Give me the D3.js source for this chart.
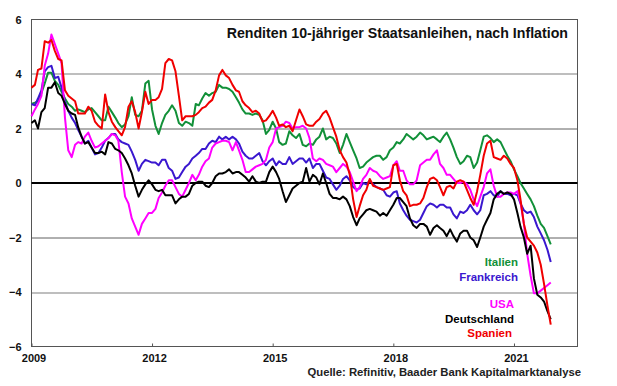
<!DOCTYPE html>
<html>
<head>
<meta charset="utf-8">
<script src="https://cdn.jsdelivr.net/npm/d3@7"></script>
<style>
  body { margin: 0; background: #fff; }
  svg { display: block; font-family: "Liberation Sans", Arial, sans-serif; font-weight: bold; }
</style>
</head>
<body>
<svg width="617" height="386"></svg>
<script>
// Realrenditen, Monatswerte ab Jan 2009
const startMonth = new Date(2009, 0, 1);

const italien = [
  2.9, 2.95, 3.0, 3.3, 3.65, 4.05, 4.05, 3.75, 3.6, 3.35,
  3.1, 2.9, 2.8, 2.65, 2.7, 2.65, 2.6, 2.7, 2.75, 2.6,
  2.45, 2.3, 2.3, 2.8, 2.6, 2.4, 2.2, 2.05, 2.15, 2.45,
  3.15, 2.5, 2.45, 2.65, 3.65, 3.75, 2.7, 2.1, 1.8, 2.2,
  2.5, 2.65, 2.85, 2.65, 2.2, 2.1, 2.25, 2.2, 2.1, 2.9,
  2.85, 3.1, 3.3, 3.2, 3.3, 3.35, 3.6, 3.5, 3.5, 3.45,
  3.35, 3.15, 2.95, 2.7, 2.55, 2.55, 2.5, 2.55, 2.5, 2.3,
  1.8, 1.95, 2.25, 2.0, 1.5, 1.4, 1.45, 1.9, 1.75, 1.65,
  1.8, 1.4, 1.35, 1.45, 1.4, 1.6, 1.7, 2.0, 1.6, 1.7,
  1.65, 1.45, 1.1, 1.4, 1.8, 1.5, 1.2, 0.9, 0.55, 0.6,
  0.75, 0.85, 0.95, 1.0, 1.0, 0.85, 0.95, 1.2, 1.3, 1.5,
  1.45, 1.6, 1.8, 1.7, 1.6, 1.7, 1.85, 1.75, 1.6, 1.65,
  1.7, 1.6, 1.5, 1.7, 1.85, 1.6, 1.3, 0.95, 0.7, 0.8,
  1.0, 0.95, 0.55, 0.75, 1.2, 1.7, 1.75, 1.65, 1.5, 1.6,
  1.5, 1.25, 1.0, 0.8, 0.5, 0.25, 0.0, -0.2, -0.4, -0.6,
  -0.85, -1.2, -1.5, -1.65, -1.95, -2.25
];

const frankreich = [
  2.9, 2.85, 3.1, 3.4, 4.1, 4.25, 4.3, 3.85, 3.9, 3.5,
  3.0, 2.65, 2.4, 2.2, 1.95, 1.7, 1.45, 1.55, 1.3, 1.05,
  1.1, 1.3, 1.55, 1.65, 1.8, 1.8, 1.6, 1.5, 1.45, 1.4,
  1.15, 0.85, 0.45, 0.7, 0.85, 0.8, 0.75, 0.75, 0.65, 0.85,
  0.85, 0.55, 0.45, 0.15, 0.2, 0.4, 0.6, 0.7, 0.9, 1.0,
  1.1, 1.25, 1.25, 1.45, 1.55, 1.5, 1.7, 1.6, 1.7, 1.6,
  1.7, 1.6, 1.45, 1.15, 1.0, 0.9, 0.9, 1.0, 1.1, 0.8,
  0.65, 0.8, 0.9, 0.65, 0.8, 0.7, 0.7, 0.95, 0.7, 0.8,
  0.9, 0.9, 0.75, 0.9, 0.55, 0.7, 0.7, 0.45, 0.2, 0.15,
  -0.05, -0.25, -0.1, 0.15, 0.25, 0.1, -0.15, -0.25, -0.2, 0.0,
  -0.05, 0.1, -0.05, -0.15, -0.2, -0.25, -0.45, -0.5, -0.35, -0.3,
  -0.75, -1.0, -1.2, -1.35, -1.4, -1.45, -1.35, -1.1, -0.85, -0.75,
  -0.8, -0.9, -0.8, -0.8, -0.9, -0.9, -1.15, -1.3, -1.05, -1.1,
  -1.0, -0.8, -1.0, -1.15, -1.0, -0.45, -0.4, -0.3, -0.45, -0.5,
  -0.3, -0.4, -0.4, -0.45, -0.4, -0.45, -0.75, -1.0, -1.1, -1.05,
  -1.25, -1.6, -1.85, -2.1, -2.45, -2.9
];

const usa = [
  2.45, 2.7, 2.9, 3.2, 4.3, 4.75, 5.45, 5.1, 4.75, 4.4,
  2.4, 1.2, 0.95, 1.4, 1.5, 1.45, 1.7, 1.85, 1.55, 1.3,
  1.35, 1.45, 1.55, 1.65, 1.8, 1.75, 1.55, 0.4, -0.5, -0.75,
  -1.3, -1.6, -1.9, -1.5, -1.3, -1.1, -1.1, -0.95, -0.55, -0.35,
  -0.1, 0.1, 0.1, -0.15, -0.4, -0.5, -0.25, 0.0, 0.3, 0.1,
  0.3, 0.6, 0.8, 0.9, 1.3, 1.45, 1.5, 1.55, 1.55, 1.5,
  1.2, 1.5, 1.2, 0.85, 0.4, 0.4, 0.5, 0.6, 0.65, 0.7,
  0.85, 1.3, 1.5, 2.0, 2.05, 2.1, 2.25, 2.2, 2.0, 2.05,
  2.05, 2.1, 2.0, 1.65, 0.9, 0.8, 0.9, 0.85, 0.7, 0.65,
  0.6, 0.4, 0.55, 0.7, 0.6, 0.4, 0.05, -0.3, -0.15, 0.15,
  0.3, 0.55, 0.45, 0.4, 0.25, 0.15, 0.2, 0.25, 0.65, 0.8,
  0.45, 0.45, 0.1, -0.05, -0.05, 0.1, 0.65, 0.75, 0.85, 0.85,
  1.05, 1.2, 0.7, 0.55, 0.3, 0.3, 0.15, 0.0, 0.0, 0.05,
  -0.05, -0.25, -0.6, -0.85, -0.5, -0.15, 0.35, 0.5, -0.1, -0.5,
  -0.5, -0.4, -0.35, -0.35, -0.4, -0.3, -0.7, -1.5, -2.6, -3.4,
  -4.05, -4.05, -3.95, -3.85, -3.75, -3.65
];

const deutschland = [
  2.2, 2.3, 2.0, 2.6, 2.75, 3.5, 3.5, 3.7, 3.3, 3.2,
  2.9, 2.65, 2.55, 2.5, 2.05, 1.7, 1.45, 1.5, 1.3, 1.1,
  1.1, 1.15, 1.05, 1.5, 1.45, 1.25, 1.2, 1.1, 0.9, 0.65,
  0.35, -0.1, -0.5, -0.25, -0.05, 0.1, -0.05, -0.25, -0.3, -0.25,
  -0.45, -0.45, -0.45, -0.75, -0.6, -0.5, -0.5, -0.4, -0.1, 0.0,
  0.05, 0.05, -0.1, -0.15, 0.0, 0.25, 0.35, 0.35, 0.4, 0.5,
  0.35, 0.4, 0.4, 0.3, 0.2, 0.05, 0.25, 0.05, 0.0, 0.05,
  0.05, 0.4, 0.6, 0.4, 0.15, -0.3, -0.7, -0.45, -0.2, -0.1,
  0.0, 0.05, 0.55, 0.05, 0.3, 0.2, -0.05, 0.35, 0.0, -0.4,
  -0.55, -0.55, -0.6, -0.5, -0.6, -0.85, -1.25, -1.55, -1.3, -1.15,
  -1.0, -0.95, -1.0, -1.05, -1.2, -1.1, -1.2, -1.0, -0.8, -0.55,
  -0.55, -0.7, -0.85, -1.3, -1.55, -1.65, -1.5, -1.5, -1.6, -1.9,
  -1.65, -1.55, -1.65, -1.75, -1.95, -1.7, -1.95, -2.15, -1.85, -1.75,
  -1.75, -2.0, -2.1, -2.35, -2.0, -1.6, -1.35, -1.1, -0.6, -0.4,
  -0.3, -0.4, -0.35, -0.4, -0.6, -1.1, -1.6, -2.0, -2.6, -2.3,
  -3.5, -4.1, -4.2, -4.35, -4.7, -5.0
];

const spanien = [
  3.5, 3.6, 4.15, 4.2, 5.2, 5.15, 5.25, 4.85, 4.55, 4.5,
  3.4, 3.2, 3.1, 3.0, 2.55, 2.55, 2.55, 2.8, 2.65, 2.25,
  2.1, 2.0, 3.25, 2.6, 2.25, 2.05, 1.9, 1.75, 2.05, 2.8,
  3.0, 2.6, 2.0, 2.6, 3.35, 2.9, 3.05, 3.05, 3.15, 3.45,
  4.4, 4.55, 4.5, 4.1, 3.2, 2.3, 2.45, 2.45, 2.45, 2.5,
  2.6, 2.75, 2.8, 2.95, 3.05, 3.4, 3.95, 4.15, 3.95, 3.85,
  3.6, 3.4, 3.35, 3.0, 2.85, 2.75, 2.6, 2.65, 2.55, 2.25,
  2.3, 2.45, 2.65, 2.4, 2.1, 2.15, 2.05, 2.1, 1.9, 2.3,
  2.7, 2.45, 2.15, 2.1, 2.1, 2.25, 2.35, 2.55, 2.65, 2.4,
  2.05, 1.7, 1.2, 0.95, 0.75, 0.3, -0.6, -1.25, -0.85, -0.45,
  -0.25, 0.15, -0.1, -0.15, -0.2, -0.25, -0.2, -0.15, 0.65, 0.7,
  0.1, -0.3, -0.45, -0.85, -0.8, -0.8, -0.75, -0.55, -0.15, 0.15,
  0.2, 0.1, -0.15, -0.45, -0.15, -0.1, -0.2, 0.05, 0.1, 0.05,
  -0.25, -0.55, -0.8, -0.3, 0.3, 1.0, 1.45, 1.55, 0.95, 0.9,
  0.85, 1.0, 0.9, 0.7, 0.55, 0.1, -0.6, -1.5, -2.0, -2.15,
  -2.3, -2.55, -3.0, -3.7, -4.5, -5.2
];

const names = ["Italien", "Frankreich", "USA", "Deutschland", "Spanien"];
const yTicks = [-6, -4, -2, 0, 2, 4, 6];
const xTickYears = [2009, 2012, 2015, 2018, 2021];

const title = "Renditen 10-jähriger Staatsanleihen, nach Inflation";
const quelle = "Quelle: Refinitiv, Baader Bank Kapitalmarktanalyse";

// Aufbau
const colors = {
  Italien: "#119038",
  Frankreich: "#3a17cf",
  USA: "#ff00ff",
  Deutschland: "#000000",
  Spanien: "#f00000"
};
const values = [italien, frankreich, usa, deutschland, spanien];
const series = names.map((name, i) => ({
  name: name,
  points: values[i].map((v, m) => ({ date: d3.timeMonth.offset(startMonth, m), value: v }))
}));

const margin = { top: 19.5, right: 39.5, bottom: 39.5, left: 31.5 },
    width = 617 - margin.left - margin.right,
    height = 386 - margin.top - margin.bottom;

const svg = d3.select("svg");
const g = svg.append("g")
    .attr("transform", "translate(" + margin.left + "," + margin.top + ")");

const x = d3.scaleTime()
    .domain([new Date(2009, 0, 1), new Date(2022, 7, 1)])
    .range([0, width]);

const y = d3.scaleLinear()
    .domain([-6, 6])
    .range([height, 0]);

// Gitter
g.append("g")
    .selectAll("line")
    .data(yTicks.filter(d => d !== 0 && Math.abs(d) !== 6))
    .enter()
    .append("line")
    .attr("x1", 0)
    .attr("x2", width)
    .attr("y1", d => Math.round(y(d)) + 0.5)
    .attr("y2", d => Math.round(y(d)) + 0.5)
    .style("stroke", d => Math.abs(d) === 4 ? "#a8a8a8" : "#606060")
    .style("stroke-width", d => Math.abs(d) === 4 ? 1.6 : 1);

// Rahmen
g.append("rect")
    .attr("x", 0)
    .attr("y", 0)
    .attr("width", width)
    .attr("height", height)
    .style("fill", "none")
    .style("stroke", "#555")
    .style("stroke-width", 1);

// Achsen
const yAxis = g.append("g")
    .call(d3.axisLeft(y).tickValues(yTicks).tickSize(0).tickPadding(10).tickFormat(d3.format("d")));
yAxis.select(".domain").remove();
yAxis.selectAll("text")
    .style("font-size", "11px")
    .style("font-family", "'Liberation Sans', Arial, sans-serif")
    .style("font-weight", "bold")
    .attr("fill", "#111");

const xAxis = g.append("g")
    .attr("transform", "translate(0," + height + ")")
    .call(d3.axisBottom(x)
        .tickValues(xTickYears.map(yr => new Date(yr, 0, 1)))
        .tickSizeInner(-3)
        .tickSizeOuter(0)
        .tickPadding(8)
        .tickFormat(d3.timeFormat("%Y")));
xAxis.select(".domain").remove();
xAxis.selectAll("line").style("stroke", "#555");
xAxis.selectAll("text")
    .attr("dx", 2)
    .style("font-size", "11px")
    .style("font-family", "'Liberation Sans', Arial, sans-serif")
    .style("font-weight", "bold")
    .attr("fill", "#111");

// Nulllinie
g.append("line")
    .attr("x1", 0)
    .attr("x2", width)
    .attr("y1", y(0))
    .attr("y2", y(0))
    .style("stroke", "#000")
    .style("stroke-width", 2);

// Linien
const line = d3.line()
    .x(d => x(d.date))
    .y(d => y(d.value));

g.selectAll(".serie")
    .data(series)
    .enter()
    .append("path")
    .attr("class", "serie")
    .attr("d", d => line(d.points))
    .style("fill", "none")
    .style("stroke", d => colors[d.name])
    .style("stroke-width", 2)
    .style("stroke-linejoin", "round");

// Legende
const legendPos = {
  Italien: [518, 266],
  Frankreich: [518, 281],
  USA: [514, 308],
  Deutschland: [514, 323],
  Spanien: [512, 337]
};
svg.append("g")
    .selectAll("text")
    .data(names)
    .enter()
    .append("text")
    .attr("x", d => legendPos[d][0])
    .attr("y", d => legendPos[d][1])
    .attr("text-anchor", "end")
    .style("font-size", "11.5px")
    .style("fill", d => colors[d])
    .text(d => d);

// Titel und Quelle
svg.append("text")
    .attr("x", 568)
    .attr("y", 37.5)
    .attr("text-anchor", "end")
    .style("font-size", "14.2px")
    .style("fill", "#111")
    .text(title);

svg.append("text")
    .attr("x", 581)
    .attr("y", 376)
    .attr("text-anchor", "end")
    .style("font-size", "11.3px")
    .style("fill", "#222")
    .text(quelle);
</script>
</body>
</html>
